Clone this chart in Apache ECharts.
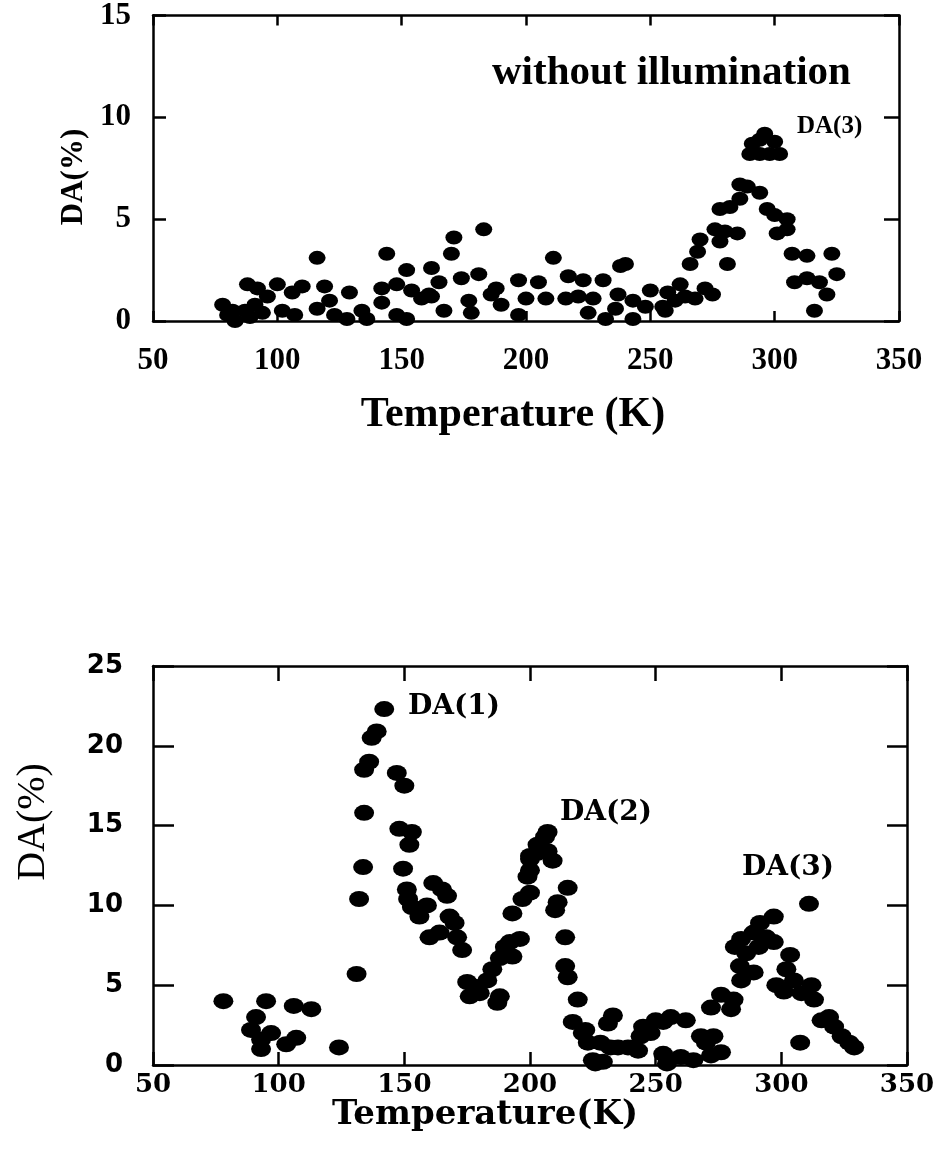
<!DOCTYPE html>
<html>
<head>
<meta charset="utf-8">
<script src="https://cdn.jsdelivr.net/npm/echarts@6/dist/echarts.min.js"></script>
<style>
  html, body { margin: 0; padding: 0; background: #fff; }
  #chart { width: 939px; height: 1156px; }
</style>
</head>
<body>
<div id="chart"></div>
<script>
// ---- Top panel: without illumination ----
const topTemp = [78,80,82,83,87,88,89,91,92,94,96,100,102,106,107,110,116,116,119,121,123,128,129,134,136,142,142,144,148,148,152,152,154,158,161,162,162,165,167,170,171,174,177,178,181,183,186,188,190,197,197,200,205,208,211,216,217,221,223,225,227,231,232,236,237,238,240,243,243,248,250,255,256,257,260,262,264,266,268,269,270,272,275,276,278,278,280,281,282,285,286,286,289,290,291,294,294,294,296,297,298,300,300,301,302,305,305,307,308,313,313,316,318,321,323,325];
const topDA   = [0.8,0.3,0.5,0.0,0.5,1.8,0.2,0.8,1.6,0.4,1.2,1.8,0.5,1.4,0.3,1.7,3.1,0.6,1.7,1.0,0.3,0.1,1.4,0.5,0.1,1.6,0.9,3.3,1.8,0.3,2.5,0.1,1.5,1.1,1.3,2.6,1.2,1.9,0.5,3.3,4.1,2.1,1.0,0.4,2.3,4.5,1.3,1.6,0.8,2.0,0.3,1.1,1.9,1.1,3.1,1.1,2.2,1.2,2.0,0.4,1.1,2.0,0.1,0.6,1.3,2.7,2.8,1.0,0.1,0.7,1.5,0.7,0.5,1.4,1.0,1.8,1.2,2.8,1.1,3.4,4.0,1.6,1.3,4.5,3.9,5.5,4.4,2.8,5.6,4.3,6.0,6.7,6.6,8.2,8.7,8.2,8.9,6.3,9.2,5.5,8.2,8.8,5.2,4.3,8.2,5.0,4.5,3.3,1.9,3.2,2.1,0.5,1.9,1.3,3.3,2.3];

// ---- Bottom panel: with illumination ----
const botTemp = [78,95,106,113,91,89,97,93,107,103,93,124,131,132,133.6,134,134,136,137,139,142,147,150,148,153,152,149.5,151,151.5,153,156,159,161.5,165,167,160,164,168,170,171,173,175,178,180,176,183,188,187,185,190,192,196,193,188,190,193,197,200,199,200,200,200,203,203,206,207,207,209,215,211,210,214,214,215,219,217,221,223,225,226,229,222,233,231,232,228,235,239,241,243,245,244,248,250,253,256,262,253,254.5,260,265,268,270,273,276,272,272,276,281,280,281.5,286,283.5,284,289,284,289,291.5,297,294,291,297,311,303.5,302,305,298,301,308,312,313,307.5,316,319,321,324,327,329];
const botDA   = [4.0,4.0,3.7,3.5,3.0,2.2,2.0,1.6,1.7,1.3,1.0,1.1,5.7,10.4,12.4,15.8,18.5,19.0,20.5,20.9,22.3,18.3,17.5,14.8,14.6,13.8,12.3,11.0,10.4,9.9,9.3,10.0,11.4,11.0,10.6,8.0,8.3,9.3,8.9,8.0,7.2,5.2,4.9,4.5,4.3,5.3,4.3,3.9,6.0,7.0,7.7,7.9,6.8,6.7,7.4,9.5,10.4,10.8,11.8,12.2,12.9,13.1,13.3,13.8,14.3,14.6,13.4,12.8,11.1,10.2,9.7,8.0,6.2,5.5,4.1,2.7,2.0,1.4,0.3,0.1,0.2,2.2,3.1,2.6,1.1,1.4,1.1,1.1,1.1,0.9,2.4,1.8,2.0,2.8,2.7,3.0,2.8,0.7,0.1,0.5,0.3,1.8,1.4,1.8,0.8,0.6,3.6,4.4,4.1,3.5,7.4,7.0,6.2,5.3,5.8,7.9,8.3,8.9,9.3,8.0,7.4,7.7,10.1,6.9,6.0,5.3,5.0,4.6,4.5,5.0,4.1,1.4,2.8,3.0,2.4,1.8,1.4,1.1];

const xTicks = [50, 350, 50];      // min, max, interval (Temperature K)
const topY = [0, 15, 5];
const botY = [0, 25, 5];

const topPts = topTemp.map((t, i) => [t, topDA[i]]);
const botPts = botTemp.map((t, i) => [t, botDA[i]]);

const SERIF = "'Liberation Serif', 'Times New Roman', serif";
const DSERIF = "'DejaVu Serif', serif";
const DSANS = "'DejaVu Sans', sans-serif";

function xAx(gridIndex, pos, label, tickLen, font) {
  return {
    type: 'value', gridIndex, position: pos,
    min: xTicks[0], max: xTicks[1], interval: xTicks[2],
    axisLine: { show: true, onZero: false, lineStyle: { color: '#000', width: 2.5 } },
    axisTick: { show: true, inside: true, length: tickLen, lineStyle: { color: '#000', width: 2.5 } },
    splitLine: { show: false },
    axisLabel: label ? Object.assign({ show: true, color: '#000' }, font) : { show: false }
  };
}
function yAx(gridIndex, pos, rng, label, tickLen, font) {
  return {
    type: 'value', gridIndex, position: pos,
    min: rng[0], max: rng[1], interval: rng[2],
    axisLine: { show: true, onZero: false, lineStyle: { color: '#000', width: 2.5 } },
    axisTick: { show: true, inside: true, length: tickLen, lineStyle: { color: '#000', width: 2.5 } },
    splitLine: { show: false },
    axisLabel: label ? Object.assign({ show: true, color: '#000' }, font) : { show: false }
  };
}

const chart = echarts.init(document.getElementById('chart'), null, { renderer: 'canvas' });
chart.setOption({
  backgroundColor: '#fff',
  animation: false,
  grid: [
    { left: 153, top: 15, width: 746, height: 306 },
    { left: 153, top: 666, width: 754, height: 399 }
  ],
  xAxis: [
    xAx(0, 'bottom', true, 10, { fontFamily: SERIF, fontWeight: 'bold', fontSize: 31, margin: 24 }),
    xAx(0, 'top', false, 10),
    xAx(1, 'bottom', true, 13, { fontFamily: DSERIF, fontWeight: 'bold', fontSize: 26, margin: 7 }),
    xAx(1, 'top', false, 15)
  ],
  yAxis: [
    yAx(0, 'left', topY, true, 13, { fontFamily: SERIF, fontWeight: 'bold', fontSize: 31, margin: 22 }),
    yAx(0, 'right', topY, false, 15),
    yAx(1, 'left', botY, true, 21, { fontFamily: DSANS, fontWeight: 'bold', fontSize: 26, margin: 30 }),
    yAx(1, 'right', botY, false, 20)
  ],
  series: [
    { type: 'scatter', xAxisIndex: 0, yAxisIndex: 0, data: topPts, clip: false,
      symbol: 'circle', symbolSize: [17, 14], itemStyle: { color: '#000', opacity: 1 } },
    { type: 'scatter', xAxisIndex: 2, yAxisIndex: 2, data: botPts, clip: false,
      symbol: 'circle', symbolSize: [20, 16], itemStyle: { color: '#000', opacity: 1 } }
  ],
  graphic: [
    { type: 'text', x: 492, y: 73, style: { text: 'without illumination', fill: '#000',
      fontFamily: SERIF, fontWeight: 'bold', fontSize: 41, align: 'left', verticalAlign: 'middle' } },
    { type: 'text', x: 797, y: 127, style: { text: 'DA(3)', fill: '#000',
      fontFamily: SERIF, fontWeight: 'bold', fontSize: 25, align: 'left', verticalAlign: 'middle' } },
    { type: 'text', x: 513, y: 415, style: { text: 'Temperature (K)', fill: '#000',
      fontFamily: SERIF, fontWeight: 'bold', fontSize: 42, align: 'center', verticalAlign: 'middle' } },
    { type: 'text', x: 74, y: 177, rotation: Math.PI / 2, style: { text: 'DA(%)', fill: '#000',
      fontFamily: SERIF, fontWeight: 'bold', fontSize: 31, align: 'center', verticalAlign: 'middle' } },
    { type: 'text', x: 408, y: 707, style: { text: 'DA(1)', fill: '#000',
      fontFamily: DSERIF, fontWeight: 'bold', fontSize: 28, align: 'left', verticalAlign: 'middle' } },
    { type: 'text', x: 560, y: 813, style: { text: 'DA(2)', fill: '#000',
      fontFamily: DSERIF, fontWeight: 'bold', fontSize: 28, align: 'left', verticalAlign: 'middle' } },
    { type: 'text', x: 742, y: 868, style: { text: 'DA(3)', fill: '#000',
      fontFamily: DSERIF, fontWeight: 'bold', fontSize: 28, align: 'left', verticalAlign: 'middle' } },
    { type: 'text', x: 485, y: 1115, style: { text: 'Temperature(K)', fill: '#000',
      fontFamily: DSERIF, fontWeight: 'bold', fontSize: 34, align: 'center', verticalAlign: 'middle' } },
    { type: 'text', x: 33, y: 822, rotation: Math.PI / 2, style: { text: 'DA(%)', fill: '#000',
      fontFamily: SERIF, fontWeight: 'normal', fontSize: 40, align: 'center', verticalAlign: 'middle' } }
  ]
});
</script>
</body>
</html>
